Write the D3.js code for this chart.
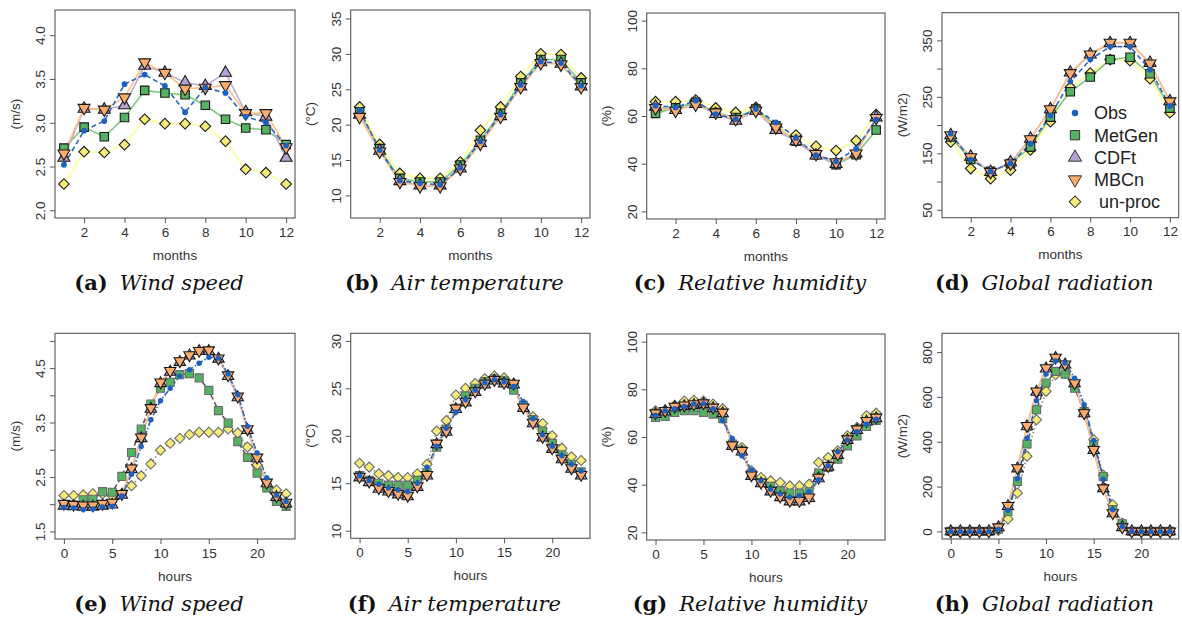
<!DOCTYPE html>
<html><head><meta charset="utf-8">
<script src="https://cdn.jsdelivr.net/npm/d3@7"></script>
<style>
html,body{margin:0;padding:0;background:#fff;}
svg{display:block;}
</style></head>
<body>
<svg id="chart" width="1182" height="619"></svg>
<script>
// ---------- data ----------
const months = [1,2,3,4,5,6,7,8,9,10,11,12];
const hours = [0,1,2,3,4,5,6,7,8,9,10,11,12,13,14,15,16,17,18,19,20,21,22,23];
const seriesNames = ["Obs","MetGen","CDFt","MBCn","un-proc"];

// (a) wind speed, monthly
const aObs    = [2.52,2.91,3.02,3.44,3.55,3.42,3.12,3.40,3.34,3.07,3.00,2.74];
const aMetGen = [2.71,2.95,2.84,3.06,3.37,3.34,3.32,3.20,3.04,2.94,2.92,2.75];
const aCDFt   = [2.60,3.16,3.15,3.20,3.65,3.57,3.46,3.42,3.57,3.12,3.07,2.60];
const aMBCn   = [2.65,3.17,3.15,3.29,3.69,3.57,3.39,3.40,3.43,3.11,3.11,2.72];
const aUnproc = [2.30,2.67,2.66,2.75,3.04,2.99,2.99,2.96,2.79,2.47,2.43,2.30];
// (b) air temperature, monthly
const bObs    = [22.1,16.4,12.1,11.7,11.5,13.9,17.6,21.4,25.6,28.9,28.7,25.5];
const bMetGen = [21.8,16.6,12.4,11.9,11.9,14.3,17.8,21.6,25.9,29.2,29.2,25.9];
const bCDFt   = [21.4,16.3,12.0,11.4,11.4,13.8,17.4,21.2,25.4,28.8,28.6,25.4];
const bMBCn   = [21.1,16.2,11.9,11.3,11.3,13.8,17.3,21.1,25.3,28.7,28.5,25.3];
const bUnproc = [22.5,17.2,13.1,12.4,12.4,14.7,19.2,22.5,26.8,30.0,29.9,26.6];
// (c) relative humidity, monthly
const cObs    = [64.3,63.6,66.4,60.8,58.7,62.9,57.3,50.8,43.6,41.0,46.2,58.5];
const cMetGen = [61.1,63.4,65.7,61.5,59.4,62.9,55.9,49.4,43.8,39.6,43.8,54.1];
const cCDFt   = [63.9,62.5,65.0,60.8,58.0,62.2,54.1,49.4,43.4,39.9,44.3,59.4];
const cMBCn   = [63.4,62.2,64.8,61.5,58.7,62.2,55.2,50.0,44.1,40.6,44.3,59.2];
const cUnproc = [66.0,66.0,66.7,63.4,61.5,63.6,55.9,52.0,47.3,45.5,49.7,60.6];
// (d) global radiation, monthly
const dObs    = [185,139,118,132,167,217,277,316,339,339,298,234];
const dMetGen = [179,139,118,132,161,214,259,285,316,320,291,230];
const dCDFt   = [182,144,117,134,176,228,293,325,345,345,310,242];
const dMBCn   = [182,143,117,132,175,228,292,325,346,346,309,242];
const dUnproc = [170,123,105,120,156,206,267,292,316,314,282,222];
// (e) wind speed, hourly
const eObs    = [1.94,1.93,1.90,1.91,1.95,1.96,2.15,2.55,3.06,3.55,3.90,4.13,4.35,4.47,4.59,4.70,4.68,4.39,4.01,3.43,2.94,2.48,2.17,2.05];
const eMetGen = [1.99,1.99,2.08,2.09,2.23,2.22,2.51,2.95,3.38,3.84,4.13,4.24,4.38,4.40,4.32,4.09,3.72,3.49,3.15,2.86,2.57,2.30,2.05,1.96];
const eCDFt   = [1.97,1.96,1.95,1.95,1.97,1.99,2.17,2.64,3.21,3.75,4.22,4.43,4.61,4.73,4.81,4.81,4.67,4.35,3.96,3.36,2.84,2.38,2.13,2.01];
const eMBCn   = [2.01,1.99,1.98,1.98,2.01,2.03,2.19,2.66,3.23,3.77,4.24,4.45,4.63,4.74,4.82,4.83,4.68,4.37,3.98,3.38,2.86,2.40,2.15,2.03];
const eUnproc = [2.16,2.16,2.17,2.19,2.19,2.15,2.19,2.34,2.52,2.74,2.99,3.12,3.21,3.28,3.32,3.32,3.32,3.38,3.31,3.05,2.72,2.42,2.26,2.19];
// (f) air temperature, hourly
const fObs    = [15.8,15.3,14.9,14.5,14.3,14.1,15.0,16.7,18.9,20.8,22.5,23.8,24.8,25.6,25.9,25.7,25.2,23.6,21.8,20.1,18.9,17.9,17.0,16.3];
const fMetGen = [15.8,15.3,15.0,14.8,14.8,14.8,15.3,16.1,18.8,20.7,22.9,24.2,25.0,25.7,26.0,25.8,24.8,23.2,21.7,20.5,19.2,18.0,17.0,16.2];
const fCDFt   = [15.6,15.1,14.4,14.1,13.8,13.6,14.6,15.8,19.1,20.4,22.8,23.5,24.6,25.4,25.8,25.5,25.4,22.9,21.3,19.8,18.6,17.5,16.5,15.8];
const fMBCn   = [15.7,15.2,14.5,14.2,13.9,13.7,14.7,15.9,19.2,20.5,22.9,23.6,24.7,25.5,25.9,25.6,25.5,23.0,21.4,19.9,18.7,17.6,16.6,15.9];
const fUnproc = [17.1,16.7,16.0,15.8,15.6,15.6,16.0,17.0,20.5,21.6,24.3,25.0,25.5,26.0,26.3,26.1,25.5,23.3,22.0,21.3,20.0,18.7,17.8,17.4];
// (g) relative humidity, hourly
const gObs    = [69.1,71.0,71.9,72.8,73.8,74.0,71.9,66.8,59.4,52.1,46.2,41.6,38.1,36.1,34.7,35.4,37.0,42.1,47.9,53.8,58.8,62.2,65.4,67.5];
const gMetGen = [68.2,68.6,70.3,71.0,71.0,70.3,69.6,67.7,57.0,54.2,44.4,40.9,39.3,37.5,36.5,36.5,37.0,44.9,47.2,50.7,56.3,60.5,64.4,67.0];
const gCDFt   = [69.6,70.6,72.4,72.9,73.4,73.8,72.0,69.9,56.2,53.8,43.6,40.5,37.1,34.7,32.9,32.9,34.3,42.6,47.5,52.4,58.7,62.9,66.4,67.8];
const gMBCn   = [70.0,71.0,72.8,73.3,73.8,74.2,72.4,70.3,56.6,54.2,44.0,40.9,37.5,35.1,33.3,33.3,34.7,43.0,47.9,52.8,59.1,63.3,66.8,68.2];
const gUnproc = [71.0,71.4,73.3,75.1,75.4,75.1,73.8,71.9,57.0,55.6,45.8,43.0,41.6,40.9,39.5,39.5,40.2,49.3,51.4,54.2,60.5,64.0,68.9,70.0];
// (h) global radiation, hourly
const hObs    = [0,0,0,0,0,10,94,235,416,583,702,761,751,684,565,406,233,97,22,0,0,0,0,0];
const hMetGen = [0,0,0,0,0,10,89,223,390,543,662,714,702,639,535,387,245,97,34,0,0,0,0,0];
const hCDFt   = [0,0,0,0,0,18,112,280,468,622,726,773,744,660,526,362,192,80,18,0,0,0,0,0];
const hMBCn   = [0,0,0,0,0,19,114,283,471,625,729,776,746,662,528,364,193,82,19,0,0,0,0,0];
const hUnproc = [0,0,0,0,0,4,55,171,335,498,625,699,706,662,543,409,251,119,37,0,0,0,0,0];

// tick values
const monthTicks = [2,4,6,8,10,12];
const hourTicks = [0,5,10,15,20];
const aTicks = [2.0,2.5,3.0,3.5,4.0];
const bTicks = [10,15,20,25,30,35];
const cTicks = [20,40,60,80,100];
const dTicks = [50,100,150,200,250,300,350];
const dLabels = [50,150,250,350];
const eTicks = [1.5,2.0,2.5,3.0,3.5,4.0,4.5,5.0];
const eLabels = [1.5,2.5,3.5,4.5];
const fTicks = [10,15,20,25,30];
const gTicks = [20,40,60,80,100];
const hTicks = [0,200,400,600,800];

// ---------- styling ----------
const fillColor = {"Obs":"#1e60c0","MetGen":"#54b262","CDFt":"#b7a1d2","MBCn":"#fdae6f","un-proc":"#f7ec78"};
const lineColor = {"Obs":"#2a68c4","MetGen":"#7fc97f","CDFt":"#beaed4","MBCn":"#fdc086","un-proc":"#ffff99"};

const svg = d3.select("#chart");
const fontSans = "Liberation Sans, Arial, Helvetica, sans-serif";
const fontSerif = "DejaVu Serif, serif";

const panels = [
  {id:"a", box:[55,295,10,218], x:months, xdom:[0.56,12.44], xt:monthTicks, ydom:[1.912,4.288], yt:aTicks, yl:aTicks, fmt:d3.format(".1f"), ylab:"(m/s)", xlab:"months", cap:["(a)","Wind speed"], data:[aObs,aMetGen,aCDFt,aMBCn,aUnproc], row:0},
  {id:"b", box:[350.7,590,10,218], x:months, xdom:[0.56,12.44], xt:monthTicks, ydom:[6.8,36.2], yt:bTicks, yl:bTicks, fmt:d3.format("d"), ylab:"(°C)", xlab:"months", cap:["(b)","Air temperature"], data:[bObs,bMetGen,bCDFt,bMBCn,bUnproc], row:0},
  {id:"c", box:[646.7,885,13,219], x:months, xdom:[0.56,12.44], xt:monthTicks, ydom:[16.8,103.2], yt:cTicks, yl:cTicks, fmt:d3.format("d"), ylab:"(%)", xlab:"months", cap:["(c)","Relative humidity"], data:[cObs,cMetGen,cCDFt,cMBCn,cUnproc], row:0},
  {id:"d", box:[942,1178.7,12.7,217.7], x:months, xdom:[0.56,12.44], xt:monthTicks, ydom:[36,399], yt:dTicks, yl:dLabels, fmt:d3.format("d"), ylab:"(W/m2)", xlab:"months", cap:["(d)","Global radiation"], data:[dObs,dMetGen,dCDFt,dMBCn,dUnproc], row:0, legend:true},
  {id:"e", box:[55,295,333.3,539], x:hours, xdom:[-0.92,23.92], xt:hourTicks, ydom:[1.36,5.14], yt:eTicks, yl:eLabels, fmt:d3.format(".1f"), ylab:"(m/s)", xlab:"hours", cap:["(e)","Wind speed"], data:[eObs,eMetGen,eCDFt,eMBCn,eUnproc], row:1},
  {id:"f", box:[350.7,590,333.3,538.3], x:hours, xdom:[-0.92,23.92], xt:hourTicks, ydom:[9.2,30.8], yt:fTicks, yl:fTicks, fmt:d3.format("d"), ylab:"(°C)", xlab:"hours", cap:["(f)","Air temperature"], data:[fObs,fMetGen,fCDFt,fMBCn,fUnproc], row:1},
  {id:"g", box:[646.7,885,334,540], x:hours, xdom:[-0.92,23.92], xt:hourTicks, ydom:[16.8,103.2], yt:gTicks, yl:gTicks, fmt:d3.format("d"), ylab:"(%)", xlab:"hours", cap:["(g)","Relative humidity"], data:[gObs,gMetGen,gCDFt,gMBCn,gUnproc], row:1},
  {id:"h", box:[942,1178.7,333.3,539], x:hours, xdom:[-0.92,23.92], xt:hourTicks, ydom:[-34,884], yt:hTicks, yl:hTicks, fmt:d3.format("d"), ylab:"(W/m2)", xlab:"hours", cap:["(h)","Global radiation"], data:[hObs,hMetGen,hCDFt,hMBCn,hUnproc], row:1}
];

function symbolPath(name, scale){
  const k = scale || 1;
  if(name==="Obs") return d3.symbol(d3.symbolCircle, 26*k)();
  if(name==="MetGen") return d3.symbol(d3.symbolSquare, 72*k)();
  if(name==="CDFt") return d3.symbol(d3.symbolTriangle, 62*k)();
  if(name==="MBCn") return d3.symbol(d3.symbolTriangle, 62*k)();
  return d3.symbol(d3.symbolSquare, 56*k)();
}
function symbolRotate(name){
  if(name==="MBCn") return 180;
  if(name==="un-proc") return 45;
  return 0;
}
function strokeFor(name,row){
  if(name==="Obs") return "none";
  if(row===1 && (name==="MetGen" || name==="un-proc")) return "#6a6a6a";
  return "#1a1a1a";
}
function dashFor(name,row){
  if(name==="Obs") return row===0 ? "5,3" : "6,2,1.5,2";
  if(row===1 && name==="MetGen") return "5,3";
  if(row===1 && name==="un-proc") return "1.5,2.5";
  return null;
}
function lineCol(name,row){
  if(row===1 && name==="MetGen") return "#555";
  if(row===1 && name==="un-proc") return "#8a8a6a";
  return lineColor[name];
}

// drawing order: un-proc, MetGen, CDFt, MBCn, Obs
const drawOrder = [4,1,2,3,0];

panels.forEach(p => {
  const [x0,x1,y0,y1] = p.box;
  const xs = d3.scaleLinear().domain(p.xdom).range([x0,x1]);
  const ys = d3.scaleLinear().domain(p.ydom).range([y1,y0]);
  const g = svg.append("g").attr("class","panel-"+p.id);

  // axes
  const xAxis = d3.axisBottom(xs).tickValues(p.xt).tickSize(5).tickPadding(4).tickFormat(d3.format("d"));
  const gx = g.append("g").attr("transform",`translate(0,${y1})`).call(xAxis);
  const yAxis = d3.axisLeft(ys).tickValues(p.yt).tickSize(5).tickPadding(4)
      .tickFormat(d => p.yl.some(v => Math.abs(v-d)<1e-9) ? p.fmt(d) : "");
  const gy = g.append("g").attr("transform",`translate(${x0},0)`).call(yAxis);
  [gx,gy].forEach(a => {
    a.select(".domain").remove();
    a.selectAll(".tick line").attr("stroke","#555").attr("stroke-width",1);
    a.selectAll(".tick text").attr("fill","#333").style("font-family",fontSans).style("font-size","13.5px");
  });
  gx.selectAll(".tick text").attr("y",9).attr("dy","0.71em");
  gy.selectAll(".tick text")
    .attr("x",null).attr("dy",null)
    .attr("transform","translate(-10,0) rotate(-90)")
    .attr("text-anchor","middle").attr("y",0);

  // lines
  const lineGen = d3.line().x((d,i)=>xs(p.x[i])).y(d=>ys(d));
  drawOrder.forEach(i => {
    const name = seriesNames[i];
    g.append("path").datum(p.data[i])
      .attr("d", lineGen)
      .attr("fill","none")
      .attr("stroke", lineCol(name,p.row))
      .attr("stroke-width", 1.6)
      .attr("stroke-dasharray", dashFor(name,p.row));
  });
  // markers
  drawOrder.forEach(i => {
    const name = seriesNames[i];
    const sc = p.row===1 ? 0.9 : 1;
    g.append("g").selectAll("path").data(p.data[i]).join("path")
      .attr("d", symbolPath(name, sc))
      .attr("transform",(d,j)=>`translate(${xs(p.x[j])},${ys(d)}) rotate(${symbolRotate(name)})`)
      .attr("fill", fillColor[name])
      .attr("stroke", strokeFor(name,p.row))
      .attr("stroke-width", 1.1);
  });

  // box
  g.append("rect").attr("x",x0).attr("y",y0).attr("width",x1-x0).attr("height",y1-y0)
    .attr("fill","none").attr("stroke","#555").attr("stroke-width",1.1);

  // axis titles
  g.append("text").attr("x",(x0+x1)/2).attr("y",y1+41.5)
    .attr("text-anchor","middle").attr("fill","#333")
    .style("font-family",fontSans).style("font-size","13.5px").text(p.xlab);
  g.append("text").attr("transform",`translate(${x0-40},${(y0+y1)/2}) rotate(-90)`)
    .attr("text-anchor","middle").attr("dy","0.35em").attr("fill","#333")
    .style("font-family",fontSans).style("font-size","13.5px").text(p.ylab);

  // caption
  const capY = p.row===0 ? 290 : 611;
  const cap = g.append("text").attr("x",(x0+x1)/2-16).attr("y",capY)
    .attr("text-anchor","middle").attr("fill","#111")
    .style("font-family",fontSerif).style("font-size","21px");
  cap.append("tspan").style("font-weight","bold").text(p.cap[0]);
  cap.append("tspan").attr("dx","12").style("font-style","italic").text(p.cap[1]);

  // legend
  if(p.legend){
    const lg = g.append("g");
    seriesNames.forEach((name,i) => {
      const ly = 113 + i*22.2;
      const lx = 1075;
      lg.append("path")
        .attr("d", symbolPath(name, name==="Obs"?1.3:1.2))
        .attr("transform",`translate(${lx},${ly}) rotate(${symbolRotate(name)})`)
        .attr("fill", fillColor[name])
        .attr("stroke", name==="Obs" ? "none" : "#333")
        .attr("stroke-width", 1);
      lg.append("text").attr("x",1094).attr("y",ly).attr("dy","0.36em")
        .attr("fill","#222").style("font-family",fontSans).style("font-size","18px")
        .text(name==="un-proc" ? "\u00a0un-proc" : name);
    });
  }
});
</script>
</body></html>
